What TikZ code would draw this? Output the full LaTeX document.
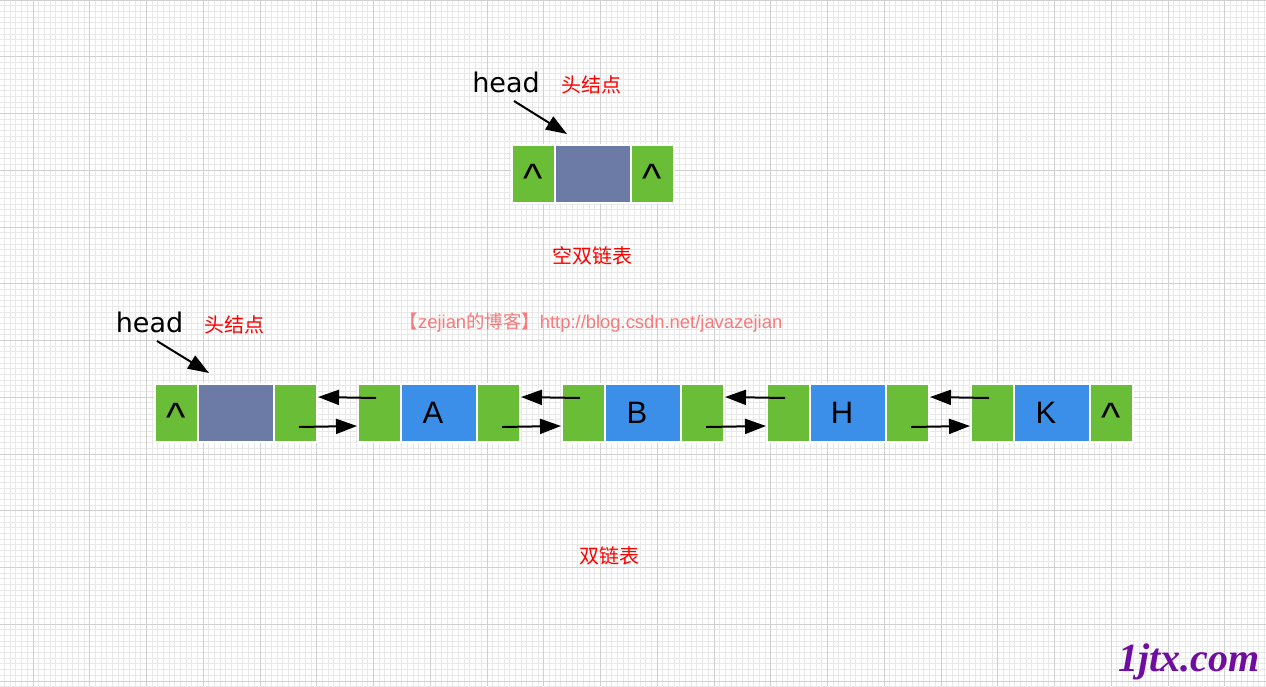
\documentclass[tikz,border=0pt]{standalone}
\usepackage{fontspec}
\setmainfont{Liberation Sans}
\newfontfamily\cjk{Noto Sans CJK SC}
\newfontfamily\dvs{DejaVu Sans}
\newfontfamily\lser{Liberation Serif}
\usetikzlibrary{arrows.meta,calc}
\definecolor{cgreen}{RGB}{106,189,54}
\definecolor{cgrey}{RGB}{108,122,166}
\definecolor{cblue}{RGB}{59,143,233}
\definecolor{gminor}{RGB}{232,232,232}
\definecolor{gmajor}{RGB}{208,208,208}
\definecolor{wm}{RGB}{247,122,122}
\definecolor{logo}{RGB}{112,12,160}
\tikzset{
  cellbox/.style={draw=white,line width=2pt,inner sep=0pt,outer sep=0pt,anchor=north west,minimum height=58pt},
  gcell/.style={cellbox,fill=cgreen,minimum width=43pt},
  vcell/.style={cellbox,fill=cgrey,minimum width=76pt},
  bcell/.style={cellbox,fill=cblue,minimum width=76pt},
  letter/.style={inner sep=0pt,font=\fontsize{31}{31}\selectfont},
  caret/.style={inner sep=0pt,anchor=base,font=\fontsize{41}{41}\selectfont},
  ptr/.style={-{Triangle[length=21pt,width=15pt]},line width=2pt,black},
  headtxt/.style={inner sep=0pt,anchor=base,font=\dvs\fontsize{27}{27}\selectfont},
  redtxt/.style={inner sep=0pt,text=red,font=\cjk\fontsize{20}{20}\selectfont},
  gridminor/.style={draw=gminor,line width=1pt},
  gridmajor/.style={draw=gmajor,line width=1pt}
}
\begin{document}
\begin{tikzpicture}[x=1pt,y=-1pt]
\useasboundingbox (0,0) rectangle (1266,686);
\fill[white] (0,0) rectangle (1266,686);
\begin{scope}
\clip (0,0) rectangle (1266,686);
\foreach \i in {0,...,223} \draw[gridminor] ({4.625+\i*5.675},0) -- ++(0,686);
\foreach \j in {0,...,121} \draw[gridminor] (0,{\j*5.675}) -- ++(1266,0);
\foreach \i in {0,...,22} \draw[gridmajor] ({-23.75+\i*56.75},0) -- ++(0,686);
\foreach \j in {0,...,12} \draw[gridmajor] (0,{\j*56.75}) -- ++(1266,0);
\end{scope}

% empty list
\node[gcell] (e1) at (512,145) {};
\node[vcell] (e2) at (555,145) {};
\node[gcell] (e3) at (631,145) {};
\node[caret] (ec1) at ($(e1.north)+(0,47)$) {\textasciicircum};
\node[caret] (ec3) at ($(e3.north)+(0,47)$) {\textasciicircum};
\node[headtxt] (eh) at (506,92) {head};
\node[redtxt] (ehl) at (591,85) {头结点};
\coordinate (et) at (514,101);
\draw[ptr] (et) -- ($(e2.north)+(-26,-11)$);
\node[redtxt] (et1) at (592,256) {空双链表};

% list
\node[gcell] (h1) at (155,384) {};
\node[vcell] (h2) at (198,384) {};
\node[gcell] (h3) at (274,384) {};
\node[caret] (hc1) at ($(h1.north)+(0,47)$) {\textasciicircum};

\node[gcell] (a1) at (358,384) {};
\node[bcell] (a2) at (401,384) {};
\node[gcell] (a3) at (477,384) {};

\node[gcell] (b1) at (562,384) {};
\node[bcell] (b2) at (605,384) {};
\node[gcell] (b3) at (681,384) {};

\node[gcell] (c1) at (767,384) {};
\node[bcell] (c2) at (810,384) {};
\node[gcell] (c3) at (886,384) {};

\node[gcell] (d1) at (971,384) {};
\node[bcell] (d2) at (1014,384) {};
\node[gcell] (d3) at (1090,384) {};
\node[caret] (dc3) at ($(d3.north)+(0,47)$) {\textasciicircum};

\node[letter] (la) at ($(a2.center)+(-6,0)$) {A};
\node[letter] (lb) at ($(b2.center)+(-6,0)$) {B};
\node[letter] (lh) at ($(c2.center)+(-6,0)$) {H};
\node[letter] (lk) at ($(d2.center)+(-6,0)$) {K};

\node[headtxt] (hh) at (149.5,332) {head};
\node[redtxt] (hhl) at (234,325) {头结点};
\coordinate (ht) at (157,341);
\draw[ptr] (ht) -- ($(h2.north)+(-27,-11)$);

\foreach \p/\n in {h3/a1,a3/b1,b3/c1,c3/d1}{
  \draw[ptr] ($(\n.north west)+(18,14)$) -- ($(\p.north east)+(1,13)$);
  \draw[ptr] ($(\p.north east)+(-18,43)$) -- ($(\n.north west)+(-1,42)$);
}

\node[redtxt] (lt) at (609,556) {双链表};
\node[inner sep=0pt,text=wm,font=\fontsize{18.4}{18.4}\selectfont] (wmk) at (591,323) {{\cjk 【}zejian{\cjk 的博客】}http://blog.csdn.net/javazejian};
\node[inner sep=0pt,text=logo,font=\lser\bfseries\itshape\fontsize{40}{40}\selectfont] (lg) at (1189,662) {1jtx.com};
\end{tikzpicture}
\end{document}
